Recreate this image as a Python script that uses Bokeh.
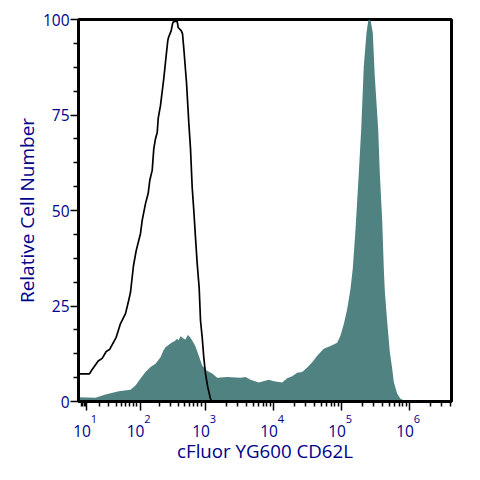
from bokeh.plotting import figure
from bokeh.models import FixedTicker, LinearAxis, Range1d
from bokeh.embed import file_html
from bokeh.resources import INLINE

# Channel scale of the biexponential axis (0..373), y = percent of maximum
fill_x = [0,17,27,40.3,52,57,62,67,72,77,82,85,87,90,93.7,96,98.7,100,102,103.5,105.3,107,109.3,111,113.7,117,120.3,123.7,128,133.7,138.7,148.7,162,167,172,180.3,190.3,195.3,203.7,208.7,213.7,218.7,223.7,228.7,233.7,238.7,245.3,252,258.7,262,265.3,268.7,272,274.3,277,280.3,282.7,285.3,288,289.7,290.5,292.2,294.3,296.3,299.7,301.3,303.7,305.3,306.3,308.7,311.3,313.7,315.3,318.7,322,325,330]
fill_y = [1.1,1.0,1.8,2.7,3.1,4.2,6.0,7.7,9.0,9.9,11.6,13.4,14.2,14.8,15.5,15.8,16.4,16.0,17.1,16.8,16.4,16.2,17.4,17.0,16,14.4,12.0,9.4,8.1,7.3,6.2,6.4,6.2,6.4,5.7,5.0,5.7,5.3,5.0,6.1,6.6,7.5,7.7,8.9,10.3,12,13.8,14.5,15.4,17.3,20.3,24.2,29.5,34.9,45,59.8,71.3,87.8,96.5,99.6,100,99.6,96.5,85.1,71.3,59.8,47.6,34.9,29,20.9,13,8.6,5.1,2,0.7,0.3,0]
line_x = [0,11,13.7,19.7,23.7,27.7,31,37.7,42,47,49.7,52,55,57.7,62,63.7,67,69.7,71.3,73.7,75.3,77,78.7,79.7,82,85.3,87.7,89.3,90,92.7,94.3,96,98.7,99.7,102.7,104,105.3,108,110.3,112,113.7,115.3,117,118.7,120.7,122,123.7,125.3,127,129.3,132,133]
line_y = [7.25,7.25,8.4,10.6,11.3,13.1,13.6,16.8,20.4,23,25.9,28.6,35.6,39.5,44,47.4,51.8,54.5,57.9,60.5,66.2,68.8,70.4,74.1,77.5,84.6,90.6,94.5,95.3,97.1,99.2,99.5,99.5,97.9,97.1,96.3,92.4,83.5,73,66.2,56,50,42.9,36.1,29.6,21.2,16.8,11.5,7.3,3.7,0.7,0]

x_major = [8,61.5,127,195,263,331]
x_exponents = ["1","2","3","4","5","6"]
x_minor = [2.5,4,5.5,7,21,30,37.7,42.7,47,51,54.7,58,81.3,92,100,106,111,115,119,123,
           215.5,227.4,236,242.5,247.9,252.5,256.4,259.9,
           283.5,295.4,304,310.5,315.9,320.5,324.4,327.9,
           351.5,363.4,372]
x_minor += [127+d for d in (20.5,32.4,41,47.5,52.9,57.5,61.4,64.9)]
y_major = [0,25,50,75,100]
y_minor = [6.25,12.5,18.75,31.25,37.5,43.75,56.25,62.5,68.75,81.25,87.5,93.75]

NAVY = "#00008B"
FONT = "Open Sans"

p = figure(width=470, height=470, output_backend="svg", toolbar_location=None,
           x_range=Range1d(0,373), y_range=Range1d(0,100),
           min_border_left=78, min_border_right=19, min_border_top=19, min_border_bottom=69)
p.grid.visible = False
p.background_fill_color = "white"
p.outline_line_color = "black"
p.outline_line_width = 3
p.outline_line_alpha = 1

p.varea(x=fill_x, y1=[0]*len(fill_x), y2=fill_y, fill_color="#508282")
p.line(x=line_x, y=line_y, line_color="black", line_width=1.7)

xa = p.xaxis[0]
xa.ticker = FixedTicker(ticks=x_major, minor_ticks=x_minor)
xa.major_label_overrides = {t: " " for t in x_major}
xa.major_label_text_font_size = "1px"
xa.major_label_standoff = 0
xa.axis_line_color = "black"; xa.axis_line_width = 3
xa.major_tick_in = 0; xa.major_tick_out = 9; xa.major_tick_line_width = 1.5
xa.minor_tick_in = 0; xa.minor_tick_out = 5; xa.minor_tick_line_width = 1.5
xa.major_tick_line_color = "black"; xa.minor_tick_line_color = "black"

def label_axis(offset, texts, size, standoff):
    ticks = [t + offset for t in x_major]
    ax = LinearAxis(ticker=FixedTicker(ticks=ticks),
                    major_label_overrides=dict(zip(ticks, texts)),
                    major_label_text_font=FONT, major_label_text_font_size=size,
                    major_label_text_color=NAVY, major_label_standoff=standoff,
                    axis_line_color=None, major_tick_line_color=None, minor_tick_line_color=None,
                    major_tick_in=0, major_tick_out=0, minor_tick_in=0, minor_tick_out=0)
    p.add_layout(ax, "below")
    return ax

label_axis(7.5, x_exponents, "11px", 0)
tens = label_axis(-4.5, ["10"]*len(x_major), "15.5px", -1)
tens.axis_label = "cFluor YG600 CD62L"
tens.axis_label_text_font = FONT
tens.axis_label_text_font_size = "18.7px"
tens.axis_label_text_font_style = "normal"
tens.axis_label_text_color = NAVY
tens.axis_label_standoff = -2

ya = p.yaxis[0]
ya.ticker = FixedTicker(ticks=y_major, minor_ticks=y_minor)
ya.major_label_text_font = FONT
ya.major_label_text_font_size = "15.5px"
ya.major_label_text_color = NAVY
ya.major_label_standoff = 1
ya.major_label_orientation = "horizontal"
ya.axis_label = "Relative Cell Number"
ya.axis_label_text_font = FONT
ya.axis_label_text_font_size = "19px"
ya.axis_label_text_font_style = "normal"
ya.axis_label_text_color = NAVY
ya.axis_label_standoff = 0
ya.axis_line_color = "black"; ya.axis_line_width = 3
ya.major_tick_in = 0; ya.major_tick_out = 8; ya.major_tick_line_width = 1.5
ya.minor_tick_in = 0; ya.minor_tick_out = 5; ya.minor_tick_line_width = 1.5
ya.major_tick_line_color = "black"; ya.minor_tick_line_color = "black"

open("out.html", "w").write(file_html(p, INLINE))
